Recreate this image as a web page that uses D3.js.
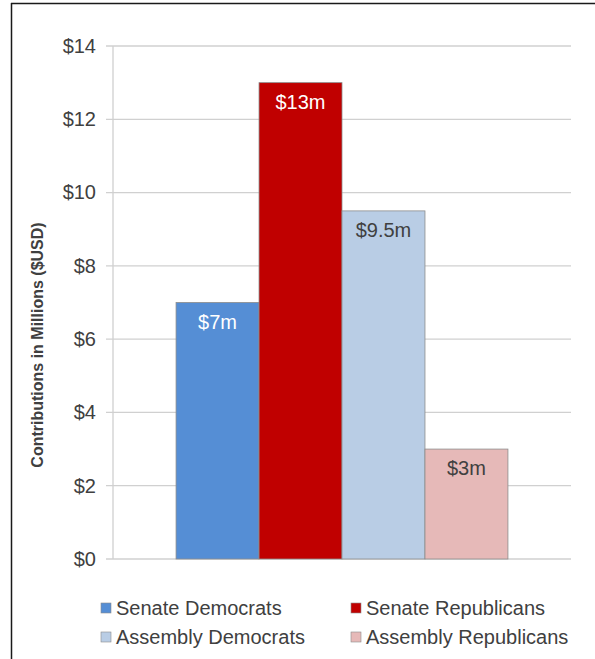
<!DOCTYPE html>
<html>
<head>
<meta charset="utf-8">
<script src="https://cdn.jsdelivr.net/npm/d3@7"></script>
<style>
  body { margin: 0; background: #fff; }
  svg { display: block; font-family: "Liberation Sans", Arial, sans-serif; }
</style>
</head>
<body>
<svg id="chart" width="595" height="659"></svg>
<script>
const categories = ['Senate Democrats', 'Senate Republicans', 'Assembly Democrats', 'Assembly Republicans'];
const values = [7, 13, 9.5, 3];
const barLabels = ['$7m', '$13m', '$9.5m', '$3m'];
const colors = ['#558ed5', '#c00000', '#b9cde5', '#e6b9b8'];
const labelColors = ['#ffffff', '#ffffff', '#404040', '#404040'];
const yTicks = [0, 2, 4, 6, 8, 10, 12, 14];

const svg = d3.select('#chart');
const width = 595, height = 659;

// frame (left + top only visible)
svg.append('line').attr('x1', 11.5).attr('x2', 11.5).attr('y1', 3).attr('y2', height)
  .attr('stroke', '#1a1a1a').attr('stroke-width', 1.5);
svg.append('line').attr('x1', 11).attr('x2', width).attr('y1', 3.5).attr('y2', 3.5)
  .attr('stroke', '#1a1a1a').attr('stroke-width', 1.5);

const y = d3.scaleLinear().domain([0, 14]).range([559, 46]);
const x = d3.scaleBand().domain(categories).range([113, 571]).paddingInner(0).paddingOuter(0.76);

// gridlines
svg.append('g').selectAll('line').data(yTicks).enter().append('line')
  .attr('x1', 106).attr('x2', 571)
  .attr('y1', d => y(d)).attr('y2', d => y(d))
  .attr('stroke', '#d0d0d0').attr('stroke-width', 1.3);

// y axis line
svg.append('line').attr('x1', 113).attr('x2', 113).attr('y1', 46).attr('y2', 559)
  .attr('stroke', '#d0d0d0').attr('stroke-width', 1.3);

// y tick labels
const yAxis = d3.axisLeft(y).tickValues(yTicks).tickFormat(d => '$' + d).tickSize(0).tickPadding(17);
const ya = svg.append('g').attr('transform', 'translate(113,0)').call(yAxis);
ya.select('.domain').remove();
ya.selectAll('text').attr('font-size', 20).attr('fill', '#404040')
  .attr('font-family', '"Liberation Sans", Arial, sans-serif');

// axis title
svg.append('text')
  .attr('transform', 'translate(43,345) rotate(-90)')
  .attr('text-anchor', 'middle')
  .attr('font-size', 16).attr('font-weight', 'bold').attr('fill', '#404040')
  .text('Contributions in Millions ($USD)');

// bars
svg.append('g').selectAll('rect').data(values).enter().append('rect')
  .attr('x', (d, i) => x(categories[i]))
  .attr('width', x.bandwidth())
  .attr('y', d => y(d))
  .attr('height', d => y(0) - y(d))
  .attr('fill', (d, i) => colors[i])
  .attr('stroke', '#8c8c8c').attr('stroke-width', 0.8);

// bar labels
svg.append('g').selectAll('text').data(values).enter().append('text')
  .attr('x', (d, i) => x(categories[i]) + x.bandwidth() / 2)
  .attr('y', d => y(d) + 26)
  .attr('text-anchor', 'middle')
  .attr('font-size', 20)
  .attr('fill', (d, i) => labelColors[i])
  .text((d, i) => barLabels[i]);

// legend
const legendPos = [[101, 608], [351, 608], [101, 637], [351, 637]];
const legend = svg.append('g').selectAll('g').data(categories).enter().append('g')
  .attr('transform', (d, i) => `translate(${legendPos[i][0]},${legendPos[i][1]})`);
legend.append('rect').attr('x', 0).attr('y', -5).attr('width', 10).attr('height', 10)
  .attr('fill', (d, i) => colors[i]).attr('stroke', '#8c8c8c').attr('stroke-width', 0.6);
legend.append('text').attr('x', 15).attr('y', 7)
  .attr('font-size', 20).attr('fill', '#404040')
  .text(d => d);
</script>
</body>
</html>
